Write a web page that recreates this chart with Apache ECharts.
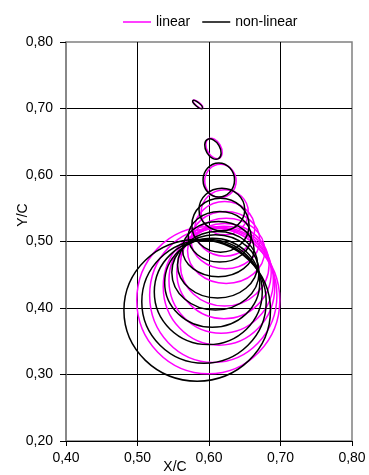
<!DOCTYPE html>
<html>
<head>
<meta charset="utf-8">
<script src="https://cdn.jsdelivr.net/npm/echarts@6/dist/echarts.min.js"></script>
<style>
html, body { margin: 0; padding: 0; background: #fff; }
#chart { width: 369px; height: 475px; }
</style>
</head>
<body>
<div id="chart"></div>
<script>
// tick labels (decimal comma)
var xTickLabels = ['0,40', '0,50', '0,60', '0,70', '0,80'];
var yTickLabels = ['0,20', '0,30', '0,40', '0,50', '0,60', '0,70', '0,80'];

// ellipses: [centre X/C, centre Y/C, semi-axis X, semi-axis Y, tilt deg]
var linearEllipses = [
    [0.5845, 0.7065, 0.0085, 0.003, -40],
    [0.607, 0.640, 0.0155, 0.0105, -60],
    [0.616, 0.591, 0.022, 0.025, 0],
    [0.622, 0.544, 0.033, 0.034, 0],
    [0.622, 0.519, 0.042, 0.041, 0],
    [0.623, 0.502, 0.048, 0.043, 0],
    [0.624, 0.486, 0.054, 0.049, 0],
    [0.622, 0.465, 0.062, 0.062, 0],
    [0.621, 0.4535, 0.066, 0.0695, 0],
    [0.617, 0.4415, 0.073, 0.0795, 0],
    [0.614, 0.432, 0.078, 0.088, 0],
    [0.606, 0.419, 0.089, 0.101, 0],
    [0.599, 0.4115, 0.100, 0.1105, 0]
];
var nonLinearEllipses = [
    [0.584, 0.706, 0.0085, 0.003, -40],
    [0.6055, 0.639, 0.0155, 0.0105, -60],
    [0.6137, 0.5925, 0.022, 0.0256, 0],
    [0.618, 0.548, 0.032, 0.032, 0],
    [0.616, 0.5245, 0.040, 0.0405, 0],
    [0.615, 0.507, 0.044, 0.038, 0],
    [0.613, 0.4885, 0.050, 0.0415, 0],
    [0.612, 0.465, 0.056, 0.050, 0],
    [0.609, 0.4535, 0.061, 0.0565, 0],
    [0.6045, 0.438, 0.0665, 0.067, 0],
    [0.599, 0.424, 0.0755, 0.079, 0],
    [0.593, 0.4095, 0.087, 0.0925, 0],
    [0.5835, 0.3965, 0.1025, 0.1065, 0]
];

var font = 'Liberation Sans, Arial, sans-serif';

function renderEllipse(params, api) {
    var c = api.coord([api.value(0), api.value(1)]);
    var s = api.size([api.value(2), api.value(3)]);
    return {
        type: 'ellipse',
        x: c[0],
        y: c[1],
        rotation: api.value(4) * Math.PI / 180,
        shape: { cx: 0, cy: 0, rx: s[0], ry: s[1] },
        style: { fill: null, stroke: api.visual('color'), lineWidth: 1.5 }
    };
}

function label(list, min) {
    return function (v) {
        return list[Math.round((v - min) * 10)];
    };
}

var chart = echarts.init(document.getElementById('chart'));
chart.setOption({
    animation: false,
    backgroundColor: '#fff',
    grid: { left: 66, right: 17, top: 42, bottom: 34, show: true, borderColor: '#808080', borderWidth: 1.5 },
    legend: {
        top: 10, left: 118,
        icon: 'rect', itemWidth: 28, itemHeight: 1.5, itemGap: 12,
        textStyle: { fontFamily: font, fontSize: 14, color: '#000' },
        data: [
            { name: 'linear', itemStyle: { color: '#ff00ff' } },
            { name: 'non-linear', itemStyle: { color: '#000' } }
        ]
    },
    xAxis: {
        type: 'value', min: 0.4, max: 0.8, interval: 0.1,
        axisLine: { show: true, lineStyle: { color: '#000', width: 1 } },
        axisTick: { show: true, inside: false, length: 5, lineStyle: { color: '#000' } },
        axisLabel: { formatter: label(xTickLabels, 0.4), fontFamily: font, fontSize: 14, color: '#000', margin: 10 },
        splitLine: { show: true, showMinLine: false, showMaxLine: false, lineStyle: { color: '#000', width: 1 } }
    },
    yAxis: {
        type: 'value', min: 0.2, max: 0.8, interval: 0.1,
        axisLine: { show: true, lineStyle: { color: '#808080', width: 1.5 } },
        axisTick: { show: true, inside: false, length: 6, lineStyle: { color: '#000' } },
        axisLabel: { formatter: label(yTickLabels, 0.2), fontFamily: font, fontSize: 14, color: '#000', margin: 13 },
        splitLine: { show: true, showMinLine: false, showMaxLine: false, lineStyle: { color: '#000', width: 1 } }
    },
    graphic: [
        { type: 'text', x: 175, y: 467, style: { text: 'X/C', font: '14px ' + font, fill: '#000', align: 'center', verticalAlign: 'middle' } },
        { type: 'text', x: 23, y: 215, rotation: Math.PI / 2, style: { text: 'Y/C', font: '14px ' + font, fill: '#000', align: 'center', verticalAlign: 'middle' } }
    ],
    series: [
        {
            name: 'linear', type: 'custom', renderItem: renderEllipse,
            itemStyle: { color: '#ff00ff' },
            encode: { x: 0, y: 1 },
            data: linearEllipses
        },
        {
            name: 'non-linear', type: 'custom', renderItem: renderEllipse,
            itemStyle: { color: '#000' },
            encode: { x: 0, y: 1 },
            data: nonLinearEllipses
        }
    ]
});
</script>
</body>
</html>
